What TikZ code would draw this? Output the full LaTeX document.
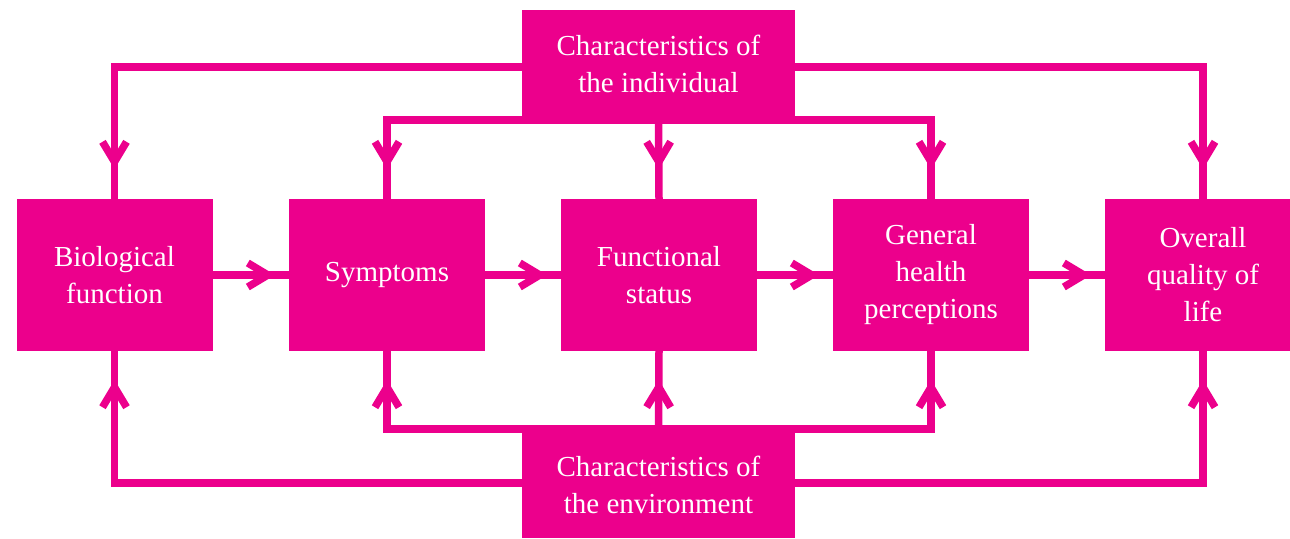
\documentclass[tikz,border=0pt]{standalone}
\usepackage{fontspec}
\setmainfont{Liberation Serif}
\usetikzlibrary{decorations.markings}
\definecolor{qolpink}{RGB}{236,0,140}
\tikzset{
  box/.style={fill=qolpink, text=white, align=center, inner sep=0pt,
    minimum width=196pt, minimum height=152pt,
    font=\fontsize{29}{37}\selectfont},
  hub/.style={box, minimum width=273pt, minimum height=107pt},
  link/.style={draw=qolpink, line width=7.5pt, line join=miter},
  % open V head placed a given distance before the end of a link
  barb/.style={postaction={decorate, decoration={markings,
    mark=at position -#1 with {\draw[qolpink, line width=7.5pt, line cap=butt,
      line join=miter] (-20pt,12pt) -- (0pt,0pt) -- (-20pt,-12pt);}}}},
}
\begin{document}
\begin{tikzpicture}[x=1pt, y=-1pt]
\useasboundingbox (0,0) rectangle (1290,538);

% factors
\node[box] (b1) at (114.5,275) {Biological\\function};
\node[box] (b2) at (387,275)   {Symptoms};
\node[box] (b3) at (659,275)   {Functional\\status};
\node[box] (b4) at (931,275)   {General\\health\\perceptions};
\node[box] (b5) at (1203,275)  {Overall\\quality of\\life};

% characteristics
\node[hub] (top) at (658.5,63.5)  {Characteristics of\\the individual};
\node[hub] (bot) at (658.5,484.5) {Characteristics of\\the environment};

% levels of the routing lines
\coordinate (ot) at (0,67);
\coordinate (it) at (659,120);
\coordinate (ib) at (659,429);
\coordinate (ob) at (0,483);

% main chain
\draw[link, barb=21pt] (b1.east) -- (b2.west);
\draw[link, barb=21pt] (b2.east) -- (b3.west);
\draw[link, barb=21pt] (b3.east) -- (b4.west);
\draw[link, barb=21pt] (b4.east) -- (b5.west);

% from the individual
\draw[link, barb=37pt] (top.west |- ot) -| (b1.north);
\draw[link, barb=37pt] (top.east |- ot) -| (b5.north);
\draw[link, barb=37pt] (it) -| (b2.north);
\draw[link, barb=37pt] (it) -| (b4.north);
\draw[link, barb=37pt] (top.south) -- (b3.north);

% from the environment
\draw[link, barb=36pt] (bot.west |- ob) -| (b1.south);
\draw[link, barb=36pt] (bot.east |- ob) -| (b5.south);
\draw[link, barb=36pt] (ib) -| (b2.south);
\draw[link, barb=36pt] (ib) -| (b4.south);
\draw[link, barb=36pt] (bot.north) -- (b3.south);
\end{tikzpicture}
\end{document}
